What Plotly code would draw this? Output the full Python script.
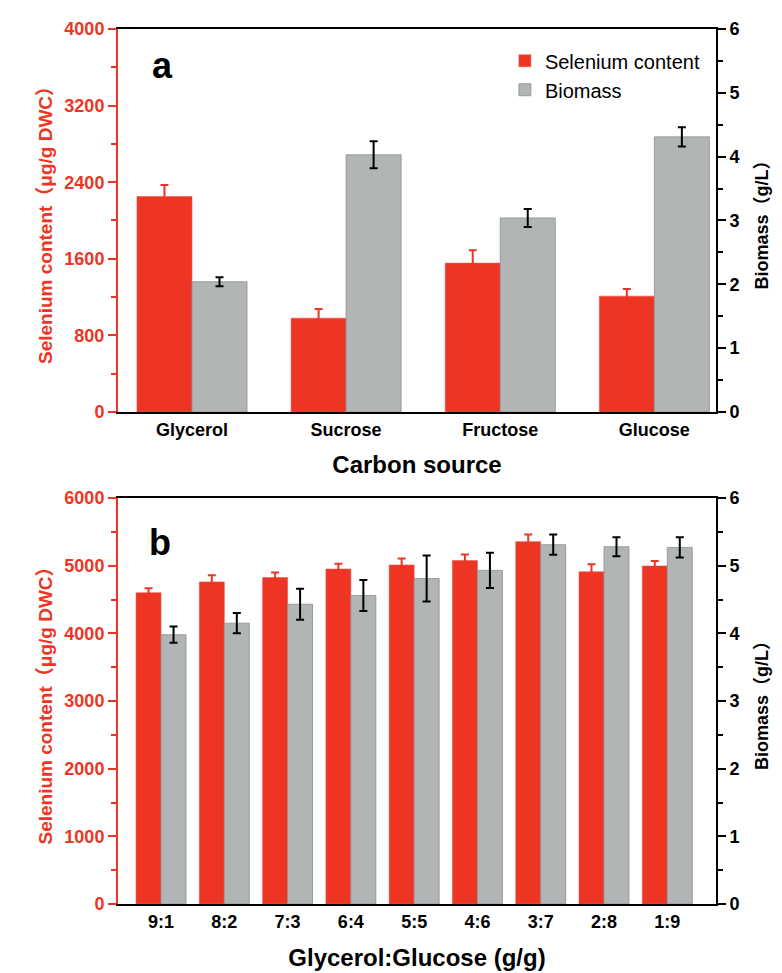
import plotly.graph_objects as go

# panel a: carbon source
carbon = ["Glycerol", "Sucrose", "Fructose", "Glucose"]
se_a = [2250, 980, 1555, 1210]
se_a_err = [120, 95, 135, 75]
bio_a = [2.04, 4.03, 3.04, 4.31]
bio_a_err = [0.07, 0.21, 0.14, 0.15]

# panel b: glycerol:glucose ratio
ratio = ["9:1", "8:2", "7:3", "6:4", "5:5", "4:6", "3:7", "2:8", "1:9"]
se_b = [4600, 4760, 4825, 4950, 5010, 5075, 5355, 4910, 4995]
se_b_err = [65, 100, 75, 80, 95, 90, 105, 110, 75]
bio_b = [3.98, 4.15, 4.43, 4.56, 4.81, 4.93, 5.31, 5.28, 5.27]
bio_b_err = [0.12, 0.15, 0.23, 0.23, 0.34, 0.26, 0.15, 0.14, 0.15]

RED = "#ee3524"
GREY = "#b1b5b6"
FONT = "Liberation Sans, Arial, Noto Sans CJK SC, sans-serif"

fig = go.Figure()

# top panel bars
wa = 0.357
fig.add_trace(go.Bar(
    x=carbon, y=se_a, name="Selenium content", xaxis="x", yaxis="y",
    width=wa, offset=-wa,
    marker=dict(color=RED, line=dict(color="#e8584c", width=0.6)),
    error_y=dict(type="data", array=se_a_err, color=RED, thickness=2, width=4),
))
fig.add_trace(go.Bar(
    x=carbon, y=bio_a, name="Biomass", xaxis="x", yaxis="y2",
    width=wa, offset=0,
    marker=dict(color=GREY, line=dict(color="#8a8e90", width=0.8)),
    error_y=dict(type="data", array=bio_a_err, color="black", thickness=2, width=4),
))

# bottom panel bars
wb = 0.395
fig.add_trace(go.Bar(
    x=ratio, y=se_b, name="Selenium content", xaxis="x2", yaxis="y3",
    width=wb, offset=-wb, showlegend=False,
    marker=dict(color=RED, line=dict(color="#e8584c", width=0.6)),
    error_y=dict(type="data", array=se_b_err, color=RED, thickness=2, width=4),
))
fig.add_trace(go.Bar(
    x=ratio, y=bio_b, name="Biomass", xaxis="x2", yaxis="y4",
    width=wb, offset=0, showlegend=False,
    marker=dict(color=GREY, line=dict(color="#8a8e90", width=0.8)),
    error_y=dict(type="data", array=bio_b_err, color="black", thickness=2, width=4),
))

tick_bold = dict(family=FONT, size=18, color="black", weight="bold")
red_bold = dict(family=FONT, size=18, color=RED, weight="bold")


def xax(domain_anchor, rng, title, standoff):
    return dict(
        anchor=domain_anchor, domain=[0, 1], range=rng, automargin=True,
        showline=True, linecolor="black", linewidth=2, mirror=True,
        ticks="", showgrid=False, zeroline=False,
        tickfont=tick_bold,
        title=dict(text=title, font=dict(family=FONT, size=24, color="black", weight="bold"),
                   standoff=standoff),
    )


def yleft(domain, anchor, rng, dtick, minor):
    return dict(
        anchor=anchor, domain=domain, range=rng, automargin=True,
        showline=True, linecolor=RED, linewidth=2,
        ticks="outside", ticklen=8, tickwidth=2, tickcolor=RED, dtick=dtick,
        minor=dict(dtick=minor, ticks="outside", ticklen=5, tickwidth=2, tickcolor=RED),
        showgrid=False, zeroline=False, tickfont=red_bold,
        title=dict(text="Selenium content（μg/g DWC）",
                   font=dict(family=FONT, size=19, color=RED, weight="bold"), standoff=7),
    )


def yright(over, anchor):
    return dict(
        overlaying=over, anchor=anchor, side="right", range=[0, 6], automargin=True,
        showline=True, linecolor="black", linewidth=2,
        ticks="outside", ticklen=8, tickwidth=2, tickcolor="black", dtick=1,
        minor=dict(dtick=0.5, ticks="outside", ticklen=5, tickwidth=2, tickcolor="black"),
        showgrid=False, zeroline=False, tickfont=tick_bold,
        title=dict(text="Biomass（g/L）",
                   font=dict(family=FONT, size=18, color="black", weight="bold"), standoff=17),
    )


fig.update_layout(
    width=774, height=965,
    margin=dict(l=110, r=66, t=21, b=69, autoexpand=False),
    paper_bgcolor="white", plot_bgcolor="white",
    barmode="overlay",
    xaxis=xax("y", [-0.48, 3.40], "Carbon source", 18),
    xaxis2=xax("y3", [-0.68, 8.77], "Glycerol:Glucose (g/g)", 19),
    yaxis=yleft([0.5623, 1], "x", [0, 4000], 800, 400),
    yaxis2=yright("y", "x"),
    yaxis3=yleft([0, 0.464], "x2", [0, 6000], 1000, 500),
    yaxis4=yright("y3", "x2"),
    legend=dict(
        x=0.647, y=0.986, xanchor="left", yanchor="top",
        bgcolor="rgba(0,0,0,0)", font=dict(family=FONT, size=20, color="black"),
        tracegroupgap=2,
    ),
    annotations=[
        dict(text="<b>a</b>", x=0.075, y=0.958, xref="paper", yref="paper",
             xanchor="center", yanchor="middle",
             showarrow=False, font=dict(family=FONT, size=36, color="black")),
        dict(text="<b>b</b>", x=0.070, y=0.413, xref="paper", yref="paper",
             xanchor="center", yanchor="middle",
             showarrow=False, font=dict(family=FONT, size=36, color="black")),
    ],
)

fig.write_html("out.html")
